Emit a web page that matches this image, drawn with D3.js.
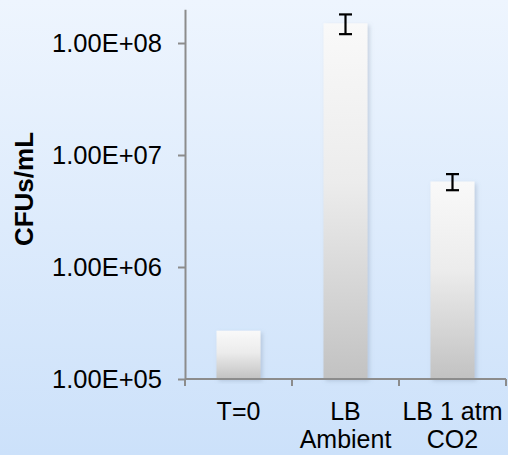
<!DOCTYPE html>
<html>
<head>
<meta charset="utf-8">
<script src="https://cdn.jsdelivr.net/npm/d3@7"></script>
<style>
  html, body { margin: 0; padding: 0; }
  svg { display: block; font-family: "Liberation Sans", Arial, sans-serif; }
</style>
</head>
<body>
<svg id="chart" width="508" height="455"></svg>
<script>
// Colony counts per growth condition
const categories = ["T=0", "LB Ambient", "LB 1 atm CO2"];
const categoryLines = [["T=0"], ["LB", "Ambient"], ["LB 1 atm", "CO2"]];
const cfuValues = [2.7e5, 1.5e8, 5.8e6];
const cfuErrors = [null, 3.0e7, 0.95e6];
const yTickValues = [1e5, 1e6, 1e7, 1e8];
const yTickLabels = ["1.00E+05", "1.00E+06", "1.00E+07", "1.00E+08"];
const yTitle = "CFUs/mL";

const W = 508, H = 455;
const svg = d3.select("#chart");
const defs = svg.append("defs");

// Page background: soft blue vertical gradient
const bg = defs.append("linearGradient").attr("id", "bg")
  .attr("x1", 0).attr("y1", 0).attr("x2", 0).attr("y2", 1);
bg.append("stop").attr("offset", "0%").attr("stop-color", "#eef5fe");
bg.append("stop").attr("offset", "100%").attr("stop-color", "#cce1fa");
svg.append("rect").attr("width", W).attr("height", H).attr("fill", "url(#bg)");

// Bar fill: white at the top fading to grey at the base
const barGrad = defs.append("linearGradient").attr("id", "barGrad")
  .attr("x1", 0).attr("y1", 0).attr("x2", 0).attr("y2", 1);
barGrad.append("stop").attr("offset", "0%").attr("stop-color", "#f9f9f9");
barGrad.append("stop").attr("offset", "45%").attr("stop-color", "#ececec");
barGrad.append("stop").attr("offset", "100%").attr("stop-color", "#c2c2c2");

const shadow = defs.append("filter").attr("id", "shadow")
  .attr("x", "-20%").attr("y", "-5%").attr("width", "150%").attr("height", "115%");
shadow.append("feDropShadow").attr("dx", 2).attr("dy", 2)
  .attr("stdDeviation", 2).attr("flood-color", "#7d8fa5").attr("flood-opacity", 0.35);

const plotLeft = 185, plotRight = 506, plotBottom = 379, plotTop = 9.3;

const y = d3.scaleLog().domain([1e5, 2e8]).range([plotBottom, plotTop]);
const x = d3.scaleBand().domain(categories).range([plotLeft, plotRight]).paddingInner(0).paddingOuter(0);
const barW = 44;

// Bars
svg.append("g").selectAll("rect").data(categories).join("rect")
  .attr("x", (d) => x(d) + x.bandwidth() / 2 - barW / 2)
  .attr("y", (d, i) => y(cfuValues[i]))
  .attr("width", barW)
  .attr("height", (d, i) => y(1e5) - y(cfuValues[i]))
  .attr("fill", "url(#barGrad)")
  .attr("filter", "url(#shadow)");

// Error bars
const eb = svg.append("g").attr("stroke", "#000").attr("stroke-width", 2.2);
categories.forEach((c, i) => {
  const e = cfuErrors[i];
  if (e == null) return;
  const cx = x(c) + x.bandwidth() / 2;
  const y1 = y(cfuValues[i] + e), y2 = y(cfuValues[i] - e);
  eb.append("line").attr("x1", cx).attr("x2", cx).attr("y1", y1).attr("y2", y2);
  eb.append("line").attr("x1", cx - 6.5).attr("x2", cx + 6.5).attr("y1", y1).attr("y2", y1);
  eb.append("line").attr("x1", cx - 6.5).attr("x2", cx + 6.5).attr("y1", y2).attr("y2", y2);
});

// Y axis
const yAxis = d3.axisLeft(y).tickValues(yTickValues)
  .tickFormat((d, i) => yTickLabels[i]).tickSize(7).tickPadding(16).tickSizeOuter(0);
const gy = svg.append("g").attr("transform", `translate(${plotLeft},0)`).call(yAxis);
gy.select(".domain").attr("stroke", "#8c8c8c").attr("stroke-width", 2);
gy.selectAll(".tick line").attr("stroke", "#8c8c8c").attr("stroke-width", 2);
gy.selectAll(".tick text").attr("fill", "#000").style("font-size", "25.5px")
  .style("font-family", "Liberation Sans, Arial, sans-serif");

// X axis line and boundary ticks
const gx = svg.append("g");
gx.append("line").attr("x1", plotLeft).attr("x2", plotRight).attr("y1", plotBottom).attr("y2", plotBottom)
  .attr("stroke", "#8c8c8c").attr("stroke-width", 2);
const bounds = categories.map((c) => x(c)).concat([x(categories[categories.length - 1]) + x.bandwidth()]);
gx.selectAll("line.tk").data(bounds).join("line").attr("class", "tk")
  .attr("x1", (d) => d).attr("x2", (d) => d)
  .attr("y1", plotBottom).attr("y2", plotBottom + 7)
  .attr("stroke", "#8c8c8c").attr("stroke-width", 2);

// Category labels (multi-line)
const lbl = gx.selectAll("text").data(categories).join("text")
  .attr("text-anchor", "middle")
  .attr("x", (d) => x(d) + x.bandwidth() / 2)
  .attr("y", 420)
  .style("font-size", "25px").attr("fill", "#000");
lbl.each(function (d, i) {
  const t = d3.select(this);
  categoryLines[i].forEach((line, j) => {
    t.append("tspan").attr("x", x(d) + x.bandwidth() / 2).attr("dy", j === 0 ? 0 : 28).text(line);
  });
});

// Y axis title
svg.append("text")
  .attr("transform", `translate(33,189) rotate(-90)`)
  .attr("text-anchor", "middle")
  .style("font-size", "26px").style("font-weight", "bold")
  .attr("fill", "#000")
  .text(yTitle);
</script>
</body>
</html>
